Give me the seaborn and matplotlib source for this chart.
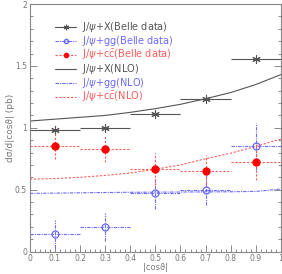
import numpy as np
import pandas as pd
import matplotlib
matplotlib.use("Agg")
import matplotlib.pyplot as plt
import seaborn as sns
from matplotlib.ticker import MultipleLocator
from matplotlib.lines import Line2D

# ### Belle data points (bin centres, half-width 0.1)
cos_bins = [0.1, 0.3, 0.5, 0.7, 0.9]
bin_halfwidth = [0.1, 0.1, 0.1, 0.1, 0.1]
total_data = [0.98, 1.0, 1.11, 1.235, 1.555]
gg_data = [0.142, 0.198, 0.47, 0.50, 0.85]
gg_err = [0.11, 0.11, 0.125, 0.126, 0.19]
cc_data = [0.85, 0.83, 0.67, 0.653, 0.725]
cc_err = [0.10, 0.11, 0.13, 0.13, 0.145]

# ### NLO curves
cos_grid = [0.0, 0.1, 0.2, 0.3, 0.4, 0.5, 0.6, 0.7, 0.8, 0.9, 1.0]
total_nlo = [1.055, 1.07, 1.085, 1.10, 1.125, 1.155, 1.19, 1.235, 1.285, 1.35, 1.43]
gg_nlo = [0.47, 0.472, 0.475, 0.477, 0.479, 0.48, 0.481, 0.482, 0.483, 0.486, 0.505]
cc_nlo = [0.585, 0.59, 0.60, 0.615, 0.635, 0.665, 0.70, 0.75, 0.795, 0.85, 0.91]

x_ticks = [0, 0.1, 0.2, 0.3, 0.4, 0.5, 0.6, 0.7, 0.8, 0.9, 1.0]
x_ticklabels = ["0", "0.1", "0.2", "0.3", "0.4", "0.5", "0.6", "0.7", "0.8", "0.9", "1"]
y_ticks = [0, 0.5, 1, 1.5, 2]
y_ticklabels = ["0", "0.5", "1", "1.5", "2"]

gray = "#555555"
blue = "#6a6aff"
red = "#ff5a5a"
dashdot = (0, (3, 1, 1, 1))
dashed = (0, (2, 1.5))

sns.set_style("ticks")
plt.rcParams['font.family'] = ['DejaVu Sans']

fig = plt.figure(figsize=(2.82, 2.74), dpi=100)
ax = fig.add_axes([0.106, 0.082, 0.89, 0.903])

nlo = pd.DataFrame({"x": cos_grid, "total": total_nlo, "gg": gg_nlo, "cc": cc_nlo})

# Belle data with error bars (asterisk marker drawn on top of the bars)
e1 = ax.errorbar(cos_bins, total_data, xerr=bin_halfwidth, fmt="none", ecolor=gray,
                 elinewidth=0.8)
star, = ax.plot(cos_bins, total_data, ls="none", marker=(6, 2, 0), color=gray, ms=6, mew=0.8)
e2 = ax.errorbar(cos_bins, gg_data, xerr=bin_halfwidth, yerr=gg_err, fmt="o", mfc="none", mec=blue,
                 ms=5, mew=0.9, ecolor=blue, elinewidth=0.8)
e3 = ax.errorbar(cos_bins, cc_data, xerr=bin_halfwidth, yerr=cc_err, fmt="o", color="#ff0000",
                 ms=5, ecolor=red, elinewidth=0.8)
# dotted error bars like the original
for cont, st in [(e2, dashdot), (e3, dashed)]:
    for lc in cont.lines[2]:
        lc.set_linestyle(st)

# NLO curves
sns.lineplot(data=nlo, x="x", y="total", color=gray, lw=0.8, ax=ax, label="_a")
sns.lineplot(data=nlo, x="x", y="gg", color=blue, lw=0.8, ls=dashdot, ax=ax, label="_b")
sns.lineplot(data=nlo, x="x", y="cc", color=red, lw=0.8, ls=dashed, ax=ax, label="_c")

ax.set_xlim(0, 1)
ax.set_ylim(0, 2)
ax.set_xticks(x_ticks)
ax.set_xticklabels(x_ticklabels)
ax.set_yticks(y_ticks)
ax.set_yticklabels(y_ticklabels)
ax.xaxis.set_minor_locator(MultipleLocator(0.02))
ax.yaxis.set_minor_locator(MultipleLocator(0.1))
ax.tick_params(which="both", direction="in", top=False, right=True, colors="#777777",
               labelsize=5.5, labelcolor="#777777", width=0.6, pad=2)
ax.tick_params(axis="x", pad=1.5)
ax.tick_params(which="major", length=5)
ax.tick_params(which="minor", length=2.5)
for s in ax.spines.values():
    s.set_color("#888888")
    s.set_linewidth(0.8)

ax.set_xlabel("|cos\u03d1|", fontsize=6, color="#777777", labelpad=0.5)
ax.set_ylabel("d\u03c3/d|cos\u03d1| (pb)", fontsize=6.5, color="#777777", labelpad=0)

# legend handles built by hand: data first, then NLO
h_data_x = Line2D([], [], color=gray, lw=0.8, marker=(6, 2, 0), ms=4, mew=0.8)
h_data_gg = Line2D([], [], color=blue, lw=0.8, ls=dashdot, marker="o", mfc="none", mec=blue, ms=3)
h_data_cc = Line2D([], [], color=red, lw=0.8, ls=dashed, marker="o", mfc="#ff0000", mec="#ff0000", ms=3)
h_nlo_x = Line2D([], [], color=gray, lw=0.8)
h_nlo_gg = Line2D([], [], color=blue, lw=0.8, ls=dashdot)
h_nlo_cc = Line2D([], [], color=red, lw=0.8, ls=dashed)
leg_labels = [r"J/$\psi$+X(Belle data)", r"J/$\psi$+gg(Belle data)",
              r"J/$\psi$+c$\bar{\rm c}$(Belle data)", r"J/$\psi$+X(NLO)",
              r"J/$\psi$+gg(NLO)", r"J/$\psi$+c$\bar{\rm c}$(NLO)"]
leg = ax.legend([h_data_x, h_data_gg, h_data_cc, h_nlo_x, h_nlo_gg, h_nlo_cc], leg_labels,
                loc="upper left", bbox_to_anchor=(0.08, 0.955), frameon=False, fontsize=7,
                handlelength=2.2, handletextpad=0.6, labelspacing=0.0, borderpad=0)
for t, col in zip(leg.get_texts(), [gray, blue, red, gray, blue, red]):
    t.set_color(col)

fig.savefig("out.png", dpi=100)
